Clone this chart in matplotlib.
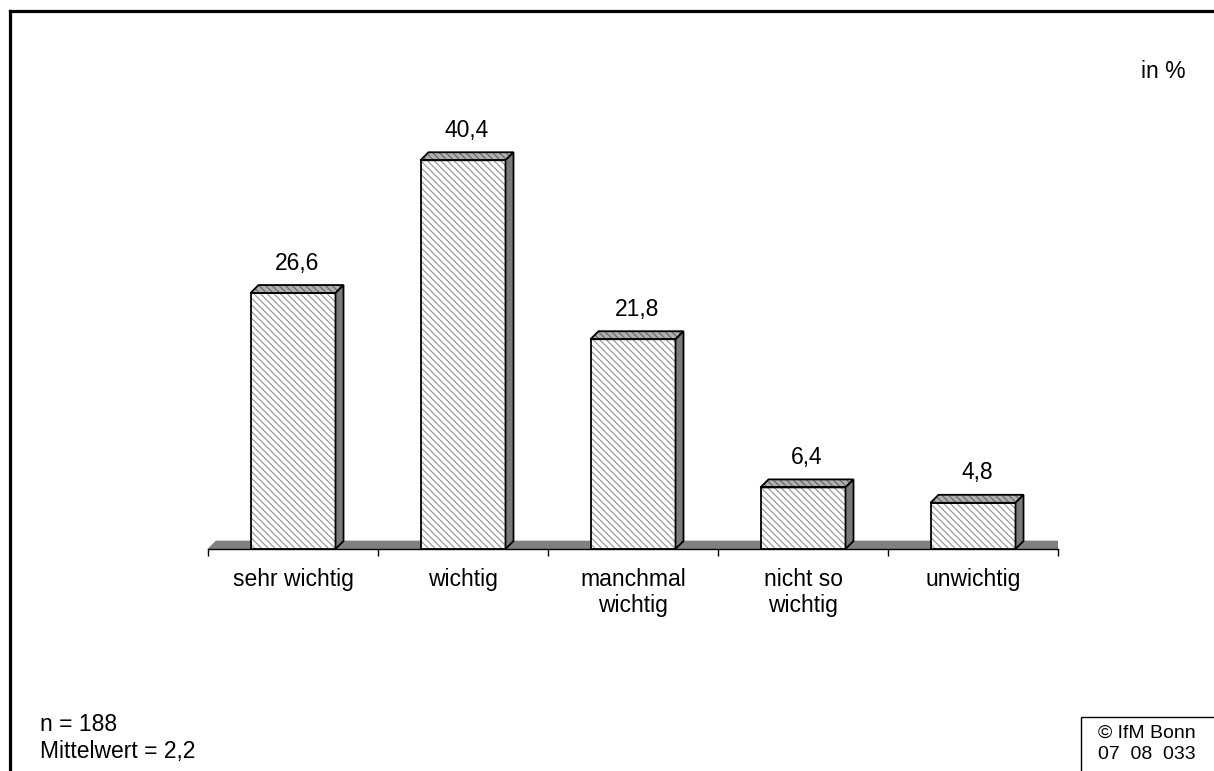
import matplotlib.pyplot as plt
from matplotlib.patches import Polygon, Rectangle
from matplotlib.lines import Line2D

plt.rcParams['font.family'] = ['Liberation Sans', 'DejaVu Sans']
plt.rcParams['hatch.linewidth'] = 0.9

# Daten
kategorien = ['sehr wichtig', 'wichtig', 'manchmal\nwichtig', 'nicht so\nwichtig', 'unwichtig']
werte = [26.6, 40.4, 21.8, 6.4, 4.8]
wert_labels = ['26,6', '40,4', '21,8', '6,4', '4,8']
fuss_links = 'n = 188\nMittelwert = 2,2'
fuss_rechts = '© IfM Bonn\n07  08  033'

W, H = 1214, 771
fig = plt.figure(figsize=(W / 100, H / 100), dpi=100)

# Achse in Pixelkoordinaten platzieren
ax = fig.add_axes([208 / W, 222 / H, 850 / W, 433 / H])
ax.set_xlim(-0.5, len(werte) - 0.5)
ax.set_ylim(0, 45)
ax.patch.set_alpha(0)

# 3D-Tiefe (8 px nach rechts und oben)
dx = 8 / 170
dy = 8 / (433 / 45)
breite = 0.5
schraffur = '\\' * 5

# Boden
ax.add_patch(Polygon([(-0.5, 0), (len(werte) - 0.5, 0), (len(werte) - 0.5 + dx, dy), (-0.5 + dx, dy)],
                     closed=True, facecolor='#808080', edgecolor='#808080', lw=0.5, zorder=1))

x = list(range(len(werte)))
# Vorderseite: Schraffur + Umriss
ax.bar(x, werte, width=breite, color='white', edgecolor='#9a9a9a', hatch=schraffur, lw=0, zorder=3)
ax.bar(x, werte, width=breite, fill=False, edgecolor='black', lw=1.3, zorder=4)

for xi, v in zip(x, werte):
    l, r = xi - breite / 2, xi + breite / 2
    # Oberseite
    oben = [(l, v), (r, v), (r + dx, v + dy), (l + dx, v + dy)]
    ax.add_patch(Polygon(oben, closed=True, facecolor='#b0b0b0', edgecolor='#6a6a6a', hatch=schraffur, lw=0, zorder=3))
    ax.add_patch(Polygon(oben, closed=True, fill=False, edgecolor='black', lw=1.3, zorder=4))
    # Seite
    seite = [(r, 0), (r + dx, dy), (r + dx, v + dy), (r, v)]
    ax.add_patch(Polygon(seite, closed=True, facecolor='#7a7a7a', edgecolor='black', lw=1.3, zorder=4))

for xi, v, t in zip(x, werte, wert_labels):
    ax.annotate(t, (xi + dx / 2, v), xytext=(0, 21.5), textcoords='offset points',
                ha='center', va='center', fontsize=16.5)

# x-Achse
for s in ['top', 'right', 'left']:
    ax.spines[s].set_visible(False)
ax.spines['bottom'].set_linewidth(1.0)
ax.set_yticks([])
ax.set_xticks([i - 0.5 for i in range(len(werte) + 1)])
ax.set_xticklabels([])
ax.tick_params(axis='x', which='major', direction='out', length=5, width=1)
ax.set_xticks(x, minor=True)
ax.set_xticklabels(kategorien, minor=True, fontsize=16.5, linespacing=1.15, va='top')
ax.tick_params(axis='x', which='minor', length=0, pad=14)

# Rahmen oben/links
fig.add_artist(Line2D([10 / W, 10 / W], [0, 1 - 10.5 / H], color='black', lw=2.3, solid_capstyle='projecting'))
fig.add_artist(Line2D([10 / W, 1], [1 - 10.5 / H, 1 - 10.5 / H], color='black', lw=2.3, solid_capstyle='projecting'))

fig.text(1163 / W, 1 - 72 / H, 'in %', ha='center', va='center', fontsize=16.5)
fig.text(40 / W, 1 - 738 / H, fuss_links, ha='left', va='center', fontsize=16.5, linespacing=1.2)

# Copyright-Box
fig.add_artist(Rectangle((1081 / W, -0.01), 0.2, 1 - 717 / H + 0.01, transform=fig.transFigure,
                         fill=False, edgecolor='black', lw=1))
fig.text(1098 / W, 1 - 744 / H, fuss_rechts, ha='left', va='center', fontsize=14, linespacing=1.3)

fig.savefig('out.png', dpi=100)
